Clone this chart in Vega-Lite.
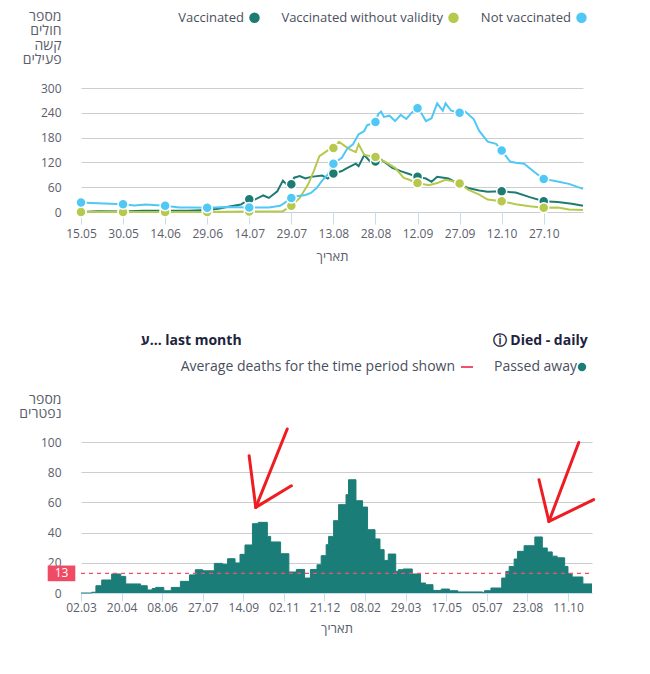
{
  "$schema": "https://vega.github.io/schema/vega-lite/v6.json",
  "background": "white",
  "padding": {"left": 18, "top": 9, "right": 5, "bottom": 5},
  "spacing": 71,
  "resolve": {
    "scale": {"color": "independent", "stroke": "independent"},
    "legend": {"color": "independent", "stroke": "independent"}
  },
  "vconcat": [
    {
      "width": 502,
      "height": 124,
      "data": {
        "values": [
          {"date": "2021-05-15", "series": "Vaccinated", "value": 0},
          {"date": "2021-05-21", "series": "Vaccinated", "value": 2},
          {"date": "2021-05-30", "series": "Vaccinated", "value": 1},
          {"date": "2021-06-06", "series": "Vaccinated", "value": 3},
          {"date": "2021-06-14", "series": "Vaccinated", "value": 3},
          {"date": "2021-06-22", "series": "Vaccinated", "value": 3},
          {"date": "2021-06-29", "series": "Vaccinated", "value": 5},
          {"date": "2021-07-03", "series": "Vaccinated", "value": 8},
          {"date": "2021-07-06", "series": "Vaccinated", "value": 12},
          {"date": "2021-07-09", "series": "Vaccinated", "value": 16},
          {"date": "2021-07-11", "series": "Vaccinated", "value": 18},
          {"date": "2021-07-14", "series": "Vaccinated", "value": 31},
          {"date": "2021-07-16", "series": "Vaccinated", "value": 30},
          {"date": "2021-07-19", "series": "Vaccinated", "value": 40},
          {"date": "2021-07-21", "series": "Vaccinated", "value": 34},
          {"date": "2021-07-24", "series": "Vaccinated", "value": 50},
          {"date": "2021-07-26", "series": "Vaccinated", "value": 76},
          {"date": "2021-07-28", "series": "Vaccinated", "value": 62},
          {"date": "2021-07-29", "series": "Vaccinated", "value": 67},
          {"date": "2021-07-30", "series": "Vaccinated", "value": 83},
          {"date": "2021-08-01", "series": "Vaccinated", "value": 87},
          {"date": "2021-08-03", "series": "Vaccinated", "value": 81},
          {"date": "2021-08-05", "series": "Vaccinated", "value": 85},
          {"date": "2021-08-09", "series": "Vaccinated", "value": 88},
          {"date": "2021-08-11", "series": "Vaccinated", "value": 81},
          {"date": "2021-08-13", "series": "Vaccinated", "value": 93},
          {"date": "2021-08-16", "series": "Vaccinated", "value": 99},
          {"date": "2021-08-18", "series": "Vaccinated", "value": 107},
          {"date": "2021-08-21", "series": "Vaccinated", "value": 117},
          {"date": "2021-08-22", "series": "Vaccinated", "value": 111},
          {"date": "2021-08-24", "series": "Vaccinated", "value": 138},
          {"date": "2021-08-26", "series": "Vaccinated", "value": 123},
          {"date": "2021-08-28", "series": "Vaccinated", "value": 122},
          {"date": "2021-08-30", "series": "Vaccinated", "value": 127},
          {"date": "2021-09-03", "series": "Vaccinated", "value": 107},
          {"date": "2021-09-06", "series": "Vaccinated", "value": 99},
          {"date": "2021-09-09", "series": "Vaccinated", "value": 92},
          {"date": "2021-09-12", "series": "Vaccinated", "value": 85},
          {"date": "2021-09-15", "series": "Vaccinated", "value": 81},
          {"date": "2021-09-17", "series": "Vaccinated", "value": 73},
          {"date": "2021-09-19", "series": "Vaccinated", "value": 85},
          {"date": "2021-09-23", "series": "Vaccinated", "value": 81},
          {"date": "2021-09-27", "series": "Vaccinated", "value": 67},
          {"date": "2021-09-30", "series": "Vaccinated", "value": 58},
          {"date": "2021-10-04", "series": "Vaccinated", "value": 52},
          {"date": "2021-10-07", "series": "Vaccinated", "value": 49},
          {"date": "2021-10-12", "series": "Vaccinated", "value": 50},
          {"date": "2021-10-17", "series": "Vaccinated", "value": 47},
          {"date": "2021-10-22", "series": "Vaccinated", "value": 36},
          {"date": "2021-10-27", "series": "Vaccinated", "value": 26},
          {"date": "2021-11-01", "series": "Vaccinated", "value": 24},
          {"date": "2021-11-06", "series": "Vaccinated", "value": 20},
          {"date": "2021-11-10", "series": "Vaccinated", "value": 15},

          {"date": "2021-05-15", "series": "Vaccinated without validity", "value": 0},
          {"date": "2021-05-30", "series": "Vaccinated without validity", "value": 0},
          {"date": "2021-06-14", "series": "Vaccinated without validity", "value": 0},
          {"date": "2021-06-29", "series": "Vaccinated without validity", "value": 0},
          {"date": "2021-07-14", "series": "Vaccinated without validity", "value": 1},
          {"date": "2021-07-24", "series": "Vaccinated without validity", "value": 1},
          {"date": "2021-07-26", "series": "Vaccinated without validity", "value": 2},
          {"date": "2021-07-29", "series": "Vaccinated without validity", "value": 15},
          {"date": "2021-08-01", "series": "Vaccinated without validity", "value": 34},
          {"date": "2021-08-04", "series": "Vaccinated without validity", "value": 67},
          {"date": "2021-08-06", "series": "Vaccinated without validity", "value": 99},
          {"date": "2021-08-08", "series": "Vaccinated without validity", "value": 135},
          {"date": "2021-08-11", "series": "Vaccinated without validity", "value": 149},
          {"date": "2021-08-13", "series": "Vaccinated without validity", "value": 155},
          {"date": "2021-08-15", "series": "Vaccinated without validity", "value": 170},
          {"date": "2021-08-17", "series": "Vaccinated without validity", "value": 160},
          {"date": "2021-08-19", "series": "Vaccinated without validity", "value": 151},
          {"date": "2021-08-21", "series": "Vaccinated without validity", "value": 145},
          {"date": "2021-08-22", "series": "Vaccinated without validity", "value": 164},
          {"date": "2021-08-24", "series": "Vaccinated without validity", "value": 138},
          {"date": "2021-08-28", "series": "Vaccinated without validity", "value": 133},
          {"date": "2021-08-31", "series": "Vaccinated without validity", "value": 123},
          {"date": "2021-09-04", "series": "Vaccinated without validity", "value": 107},
          {"date": "2021-09-07", "series": "Vaccinated without validity", "value": 83},
          {"date": "2021-09-09", "series": "Vaccinated without validity", "value": 78},
          {"date": "2021-09-12", "series": "Vaccinated without validity", "value": 70},
          {"date": "2021-09-16", "series": "Vaccinated without validity", "value": 65},
          {"date": "2021-09-19", "series": "Vaccinated without validity", "value": 70},
          {"date": "2021-09-22", "series": "Vaccinated without validity", "value": 78},
          {"date": "2021-09-25", "series": "Vaccinated without validity", "value": 74},
          {"date": "2021-09-27", "series": "Vaccinated without validity", "value": 69},
          {"date": "2021-09-30", "series": "Vaccinated without validity", "value": 54},
          {"date": "2021-10-04", "series": "Vaccinated without validity", "value": 42},
          {"date": "2021-10-07", "series": "Vaccinated without validity", "value": 30},
          {"date": "2021-10-12", "series": "Vaccinated without validity", "value": 26},
          {"date": "2021-10-17", "series": "Vaccinated without validity", "value": 19},
          {"date": "2021-10-22", "series": "Vaccinated without validity", "value": 14},
          {"date": "2021-10-27", "series": "Vaccinated without validity", "value": 10},
          {"date": "2021-11-01", "series": "Vaccinated without validity", "value": 11},
          {"date": "2021-11-05", "series": "Vaccinated without validity", "value": 6},
          {"date": "2021-11-10", "series": "Vaccinated without validity", "value": 5},

          {"date": "2021-05-15", "series": "Not vaccinated", "value": 23},
          {"date": "2021-05-21", "series": "Not vaccinated", "value": 21},
          {"date": "2021-05-30", "series": "Not vaccinated", "value": 19},
          {"date": "2021-06-03", "series": "Not vaccinated", "value": 16},
          {"date": "2021-06-07", "series": "Not vaccinated", "value": 18},
          {"date": "2021-06-14", "series": "Not vaccinated", "value": 15},
          {"date": "2021-06-19", "series": "Not vaccinated", "value": 11},
          {"date": "2021-06-24", "series": "Not vaccinated", "value": 11},
          {"date": "2021-06-29", "series": "Not vaccinated", "value": 10},
          {"date": "2021-07-06", "series": "Not vaccinated", "value": 12},
          {"date": "2021-07-14", "series": "Not vaccinated", "value": 11},
          {"date": "2021-07-21", "series": "Not vaccinated", "value": 11},
          {"date": "2021-07-25", "series": "Not vaccinated", "value": 15},
          {"date": "2021-07-27", "series": "Not vaccinated", "value": 24},
          {"date": "2021-07-29", "series": "Not vaccinated", "value": 34},
          {"date": "2021-07-31", "series": "Not vaccinated", "value": 38},
          {"date": "2021-08-03", "series": "Not vaccinated", "value": 41},
          {"date": "2021-08-05", "series": "Not vaccinated", "value": 46},
          {"date": "2021-08-07", "series": "Not vaccinated", "value": 58},
          {"date": "2021-08-09", "series": "Not vaccinated", "value": 76},
          {"date": "2021-08-11", "series": "Not vaccinated", "value": 91},
          {"date": "2021-08-13", "series": "Not vaccinated", "value": 117},
          {"date": "2021-08-16", "series": "Not vaccinated", "value": 131},
          {"date": "2021-08-18", "series": "Not vaccinated", "value": 154},
          {"date": "2021-08-20", "series": "Not vaccinated", "value": 164},
          {"date": "2021-08-22", "series": "Not vaccinated", "value": 188},
          {"date": "2021-08-24", "series": "Not vaccinated", "value": 196},
          {"date": "2021-08-25", "series": "Not vaccinated", "value": 210},
          {"date": "2021-08-28", "series": "Not vaccinated", "value": 218},
          {"date": "2021-08-29", "series": "Not vaccinated", "value": 237},
          {"date": "2021-08-30", "series": "Not vaccinated", "value": 243},
          {"date": "2021-08-31", "series": "Not vaccinated", "value": 230},
          {"date": "2021-09-02", "series": "Not vaccinated", "value": 233},
          {"date": "2021-09-04", "series": "Not vaccinated", "value": 220},
          {"date": "2021-09-06", "series": "Not vaccinated", "value": 235},
          {"date": "2021-09-08", "series": "Not vaccinated", "value": 225},
          {"date": "2021-09-10", "series": "Not vaccinated", "value": 241},
          {"date": "2021-09-12", "series": "Not vaccinated", "value": 251},
          {"date": "2021-09-13", "series": "Not vaccinated", "value": 243},
          {"date": "2021-09-15", "series": "Not vaccinated", "value": 220},
          {"date": "2021-09-17", "series": "Not vaccinated", "value": 227},
          {"date": "2021-09-19", "series": "Not vaccinated", "value": 263},
          {"date": "2021-09-21", "series": "Not vaccinated", "value": 245},
          {"date": "2021-09-22", "series": "Not vaccinated", "value": 263},
          {"date": "2021-09-24", "series": "Not vaccinated", "value": 245},
          {"date": "2021-09-27", "series": "Not vaccinated", "value": 240},
          {"date": "2021-09-29", "series": "Not vaccinated", "value": 243},
          {"date": "2021-10-02", "series": "Not vaccinated", "value": 225},
          {"date": "2021-10-04", "series": "Not vaccinated", "value": 196},
          {"date": "2021-10-07", "series": "Not vaccinated", "value": 170},
          {"date": "2021-10-10", "series": "Not vaccinated", "value": 165},
          {"date": "2021-10-12", "series": "Not vaccinated", "value": 149},
          {"date": "2021-10-15", "series": "Not vaccinated", "value": 122},
          {"date": "2021-10-17", "series": "Not vaccinated", "value": 119},
          {"date": "2021-10-20", "series": "Not vaccinated", "value": 117},
          {"date": "2021-10-24", "series": "Not vaccinated", "value": 95},
          {"date": "2021-10-27", "series": "Not vaccinated", "value": 80},
          {"date": "2021-10-31", "series": "Not vaccinated", "value": 75},
          {"date": "2021-11-05", "series": "Not vaccinated", "value": 68},
          {"date": "2021-11-10", "series": "Not vaccinated", "value": 56}
        ]
      },
      "encoding": {
        "x": {
          "field": "date",
          "type": "temporal",
          "scale": {"type": "utc", "domain": [{"year": 2021, "month": 5, "date": 15, "utc": true}, {"year": 2021, "month": 11, "date": 10, "utc": true}]},
          "axis": {
            "values": [
              {"year": 2021, "month": 5, "date": 15, "utc": true},
              {"year": 2021, "month": 5, "date": 30, "utc": true},
              {"year": 2021, "month": 6, "date": 14, "utc": true},
              {"year": 2021, "month": 6, "date": 29, "utc": true},
              {"year": 2021, "month": 7, "date": 14, "utc": true},
              {"year": 2021, "month": 7, "date": 29, "utc": true},
              {"year": 2021, "month": 8, "date": 13, "utc": true},
              {"year": 2021, "month": 8, "date": 28, "utc": true},
              {"year": 2021, "month": 9, "date": 12, "utc": true},
              {"year": 2021, "month": 9, "date": 27, "utc": true},
              {"year": 2021, "month": 10, "date": 12, "utc": true},
              {"year": 2021, "month": 10, "date": 27, "utc": true}
            ],
            "format": "%d.%m",
            "title": "תאריך",
            "grid": false,
            "domain": false,
            "labelOverlap": false,
            "labelFlush": false,
            "tickColor": "#c6ddf0",
            "tickSize": 12,
            "labelPadding": 4,
            "titlePadding": 11
          }
        },
        "y": {
          "field": "value",
          "type": "quantitative",
          "scale": {"domain": [0, 300]},
          "axis": {
            "values": [0, 60, 120, 180, 240, 300],
            "title": ["מספר", "חולים", "קשה", "פעילים"],
            "titleAngle": 0,
            "titleAlign": "right",
            "titleBaseline": "top",
            "titleX": -20,
            "titleY": -79,
            "titleFontSize": 14,
            "titleLineHeight": 14.5,
            "domain": false,
            "ticks": false,
            "labelPadding": 20
          }
        },
        "color": {
          "field": "series",
          "type": "nominal",
          "scale": {
            "domain": ["Vaccinated", "Vaccinated without validity", "Not vaccinated"],
            "range": ["#1e7b74", "#b6c94c", "#50c8f5"]
          },
          "legend": {
            "orient": "none",
            "legendX": 167,
            "legendY": -77,
            "direction": "horizontal",
            "title": null,
            "symbolType": "circle",
            "symbolSize": 110,
            "symbolStrokeWidth": 0,
            "labelAlign": "right",
            "labelOffset": -17,
            "labelLimit": 0,
            "columnPadding": 21,
            "labelFontSize": 13,
            "encode": {"symbols": {"update": {"fill": {"scale": "color", "field": "value"}, "opacity": {"value": 1}}}}
          }
        }
      },
      "layer": [
        {"mark": {"type": "line", "strokeWidth": 2}},
        {
          "transform": [{"filter": "indexof(['2021-05-15','2021-05-30','2021-06-14','2021-06-29','2021-07-14','2021-07-29','2021-08-13','2021-08-28','2021-09-12','2021-09-27','2021-10-12','2021-10-27'], utcFormat(datum.date, '%Y-%m-%d')) >= 0"}],
          "mark": {"type": "point", "filled": true, "size": 100, "opacity": 1, "stroke": "white", "strokeWidth": 1.5}
        }
      ]
    },
    {
      "title": {"text": "ע... last month", "anchor": "start", "dx": 122, "offset": -14, "fontSize": 14, "fontWeight": "bold", "color": "#1e2340"},
      "resolve": {
        "scale": {"color": "independent", "stroke": "independent"},
        "legend": {"color": "independent", "stroke": "independent"}
      },
      "vconcat": [
        {
          "width": 511,
          "height": 151,
          "title": {"text": "ⓘ  Died - daily", "anchor": "end", "dx": -12, "fontSize": 14, "fontWeight": "bold", "color": "#1e2340", "offset": 12},
          "resolve": {
            "scale": {"color": "independent", "stroke": "independent"},
            "legend": {"color": "independent", "stroke": "independent"}
          },
          "encoding": {
            "x": {
              "field": "date",
              "type": "temporal",
              "scale": {"type": "utc", "domain": [{"year": 2020, "month": 3, "date": 2, "utc": true}, {"year": 2021, "month": 11, "date": 9, "utc": true}]},
              "axis": {
                "values": [
                  {"year": 2020, "month": 3, "date": 2, "utc": true},
                  {"year": 2020, "month": 4, "date": 20, "utc": true},
                  {"year": 2020, "month": 6, "date": 8, "utc": true},
                  {"year": 2020, "month": 7, "date": 27, "utc": true},
                  {"year": 2020, "month": 9, "date": 14, "utc": true},
                  {"year": 2020, "month": 11, "date": 2, "utc": true},
                  {"year": 2020, "month": 12, "date": 21, "utc": true},
                  {"year": 2021, "month": 2, "date": 8, "utc": true},
                  {"year": 2021, "month": 3, "date": 29, "utc": true},
                  {"year": 2021, "month": 5, "date": 17, "utc": true},
                  {"year": 2021, "month": 7, "date": 5, "utc": true},
                  {"year": 2021, "month": 8, "date": 23, "utc": true},
                  {"year": 2021, "month": 10, "date": 11, "utc": true}
                ],
                "format": "%d.%m",
                "title": "תאריך",
                "grid": false,
                "labelOverlap": false,
                "labelFlush": false,
                "domainColor": "#c6ddf0",
                "tickColor": "#c6ddf0",
                "tickSize": 8,
                "labelPadding": 1,
                "titlePadding": 9
              }
            },
            "y": {
              "field": "value",
              "type": "quantitative",
              "scale": {"domain": [0, 100]},
              "axis": {
                "values": [0, 20, 40, 60, 80, 100],
                "title": ["מספר", "נפטרים"],
                "titleAngle": 0,
                "titleAlign": "right",
                "titleBaseline": "top",
                "titleX": -20,
                "titleY": -50,
                "titleFontSize": 14,
                "titleLineHeight": 14.5,
                "domain": false,
                "ticks": false,
                "labelOverlap": false,
                "labelPadding": 20
              }
            }
          },
          "layer": [
            {
              "data": {
                "values": [
                  {"date": "2020-03-02", "value": 0},
                  {"date": "2020-03-15", "value": 0.5},
                  {"date": "2020-03-20", "value": 4.8},
                  {"date": "2020-03-27", "value": 8.6},
                  {"date": "2020-04-08", "value": 12.6},
                  {"date": "2020-04-19", "value": 11},
                  {"date": "2020-04-25", "value": 6},
                  {"date": "2020-05-13", "value": 4.8},
                  {"date": "2020-05-21", "value": 2},
                  {"date": "2020-05-27", "value": 3},
                  {"date": "2020-05-31", "value": 3.7},
                  {"date": "2020-06-10", "value": 1.5},
                  {"date": "2020-06-19", "value": 3.7},
                  {"date": "2020-06-30", "value": 7.7},
                  {"date": "2020-07-11", "value": 12},
                  {"date": "2020-07-18", "value": 15.4},
                  {"date": "2020-07-27", "value": 14.7},
                  {"date": "2020-08-10", "value": 19.6},
                  {"date": "2020-08-20", "value": 19},
                  {"date": "2020-08-26", "value": 22.7},
                  {"date": "2020-09-04", "value": 19.9},
                  {"date": "2020-09-10", "value": 25.6},
                  {"date": "2020-09-16", "value": 31.8},
                  {"date": "2020-09-25", "value": 45.9},
                  {"date": "2020-10-02", "value": 46.8},
                  {"date": "2020-10-13", "value": 37.5},
                  {"date": "2020-10-17", "value": 33.8},
                  {"date": "2020-10-29", "value": 26},
                  {"date": "2020-11-08", "value": 13.9},
                  {"date": "2020-11-17", "value": 15.6},
                  {"date": "2020-11-27", "value": 9.9},
                  {"date": "2020-12-04", "value": 15.6},
                  {"date": "2020-12-12", "value": 18.7},
                  {"date": "2020-12-17", "value": 24.7},
                  {"date": "2020-12-23", "value": 32},
                  {"date": "2020-12-26", "value": 37.5},
                  {"date": "2021-01-01", "value": 47.9},
                  {"date": "2021-01-07", "value": 58.5},
                  {"date": "2021-01-16", "value": 65.1},
                  {"date": "2021-01-19", "value": 75},
                  {"date": "2021-01-28", "value": 61.1},
                  {"date": "2021-02-05", "value": 56.9},
                  {"date": "2021-02-11", "value": 41.9},
                  {"date": "2021-02-20", "value": 35.8},
                  {"date": "2021-02-26", "value": 28.7},
                  {"date": "2021-03-03", "value": 21.6},
                  {"date": "2021-03-08", "value": 25.8},
                  {"date": "2021-03-17", "value": 14.3},
                  {"date": "2021-03-20", "value": 15.4},
                  {"date": "2021-03-26", "value": 15.9},
                  {"date": "2021-04-06", "value": 12.6},
                  {"date": "2021-04-16", "value": 6.6},
                  {"date": "2021-04-22", "value": 5.5},
                  {"date": "2021-05-01", "value": 1.7},
                  {"date": "2021-05-11", "value": 2.6},
                  {"date": "2021-05-21", "value": 1.5},
                  {"date": "2021-05-31", "value": 0.7},
                  {"date": "2021-06-30", "value": 0.2},
                  {"date": "2021-07-02", "value": 1.5},
                  {"date": "2021-07-10", "value": 3.3},
                  {"date": "2021-07-23", "value": 9.9},
                  {"date": "2021-07-28", "value": 14.3},
                  {"date": "2021-08-01", "value": 17.6},
                  {"date": "2021-08-07", "value": 22.5},
                  {"date": "2021-08-11", "value": 27.6},
                  {"date": "2021-08-19", "value": 31.3},
                  {"date": "2021-09-01", "value": 37.1},
                  {"date": "2021-09-10", "value": 29.8},
                  {"date": "2021-09-16", "value": 27.2},
                  {"date": "2021-09-22", "value": 24.4},
                  {"date": "2021-09-28", "value": 23.3},
                  {"date": "2021-10-07", "value": 17.6},
                  {"date": "2021-10-11", "value": 12.8},
                  {"date": "2021-10-16", "value": 10.6},
                  {"date": "2021-10-29", "value": 6},
                  {"date": "2021-11-09", "value": 6}
                ]
              },
              "mark": {"type": "area", "interpolate": "step-after", "opacity": 1, "line": {"color": "#86c8c1", "strokeWidth": 1}},
              "encoding": {
                "color": {
                  "datum": "Passed away",
                  "scale": {"range": ["#1b7d78"]},
                  "legend": {
                    "orient": "none",
                    "legendX": 494,
                    "legendY": -82,
                    "title": null,
                    "symbolType": "circle",
                    "symbolSize": 70,
                    "symbolStrokeWidth": 0,
                    "labelAlign": "right",
                    "labelOffset": -12,
                    "labelLimit": 0,
                    "labelFontSize": 14
                  }
                }
              }
            },
            {
              "data": {"values": [{"label": "Average deaths for the time period shown", "value": 13, "date": "2020-03-02", "end": "2021-11-09"}]},
              "layer": [
                {
                  "mark": {"type": "rule", "strokeDash": [4, 4], "strokeWidth": 1.3},
                  "encoding": {
                    "x2": {"field": "end"},
                    "stroke": {
                      "field": "label",
                      "type": "nominal",
                      "scale": {"range": ["#f0506e"]},
                      "legend": {
                        "orient": "none",
                        "legendX": 379,
                        "legendY": -82,
                        "title": null,
                        "symbolType": "stroke",
                        "symbolSize": 144,
                        "symbolStrokeWidth": 2,
                        "symbolDash": [1, 0],
                        "labelAlign": "right",
                        "labelOffset": -19,
                        "labelLimit": 0,
                        "labelFontSize": 14
                      }
                    }
                  }
                },
                {
                  "mark": {"type": "point", "shape": "M-1.76,-1H1.76V1H-1.76Z", "size": 246, "filled": true, "opacity": 1, "color": "#ef4b64", "strokeWidth": 0, "xOffset": -19.5}
                },
                {
                  "mark": {"type": "text", "color": "white", "fontSize": 12, "baseline": "middle", "xOffset": -19.5},
                  "encoding": {"text": {"field": "value"}}
                }
              ]
            },
            {
              "data": {
                "values": [
                  {"stroke": "a1", "date": "2020-11-06", "value": 108.6},
                  {"stroke": "a1", "date": "2020-09-29", "value": 56.7},
                  {"stroke": "b1", "date": "2020-09-21", "value": 90.9},
                  {"stroke": "b1", "date": "2020-09-29", "value": 56.7},
                  {"stroke": "c1", "date": "2020-11-11", "value": 71},
                  {"stroke": "c1", "date": "2020-09-29", "value": 56.7},
                  {"stroke": "a2", "date": "2021-10-24", "value": 99.7},
                  {"stroke": "a2", "date": "2021-09-18", "value": 47.4},
                  {"stroke": "b2", "date": "2021-09-06", "value": 75},
                  {"stroke": "b2", "date": "2021-09-18", "value": 47.4},
                  {"stroke": "c2", "date": "2021-11-11", "value": 61.8},
                  {"stroke": "c2", "date": "2021-09-18", "value": 47.4}
                ]
              },
              "mark": {"type": "line", "color": "#ee1d23", "strokeWidth": 3, "strokeCap": "round"},
              "encoding": {"detail": {"field": "stroke"}}
            }
          ]
        }
      ]
    }
  ],
  "config": {
    "font": "Open Sans",
    "view": {"stroke": null},
    "axis": {
      "labelFont": "Open Sans",
      "labelFontSize": 12,
      "labelColor": "#5b5e6b",
      "titleFont": "Open Sans",
      "titleFontSize": 13,
      "titleFontWeight": "normal",
      "titleColor": "#5b5e6b",
      "gridColor": "#cdcdcd",
      "gridWidth": 1
    },
    "legend": {
      "labelFont": "Open Sans",
      "labelColor": "#4a4f5e"
    },
    "title": {"font": "Open Sans"}
  }
}
